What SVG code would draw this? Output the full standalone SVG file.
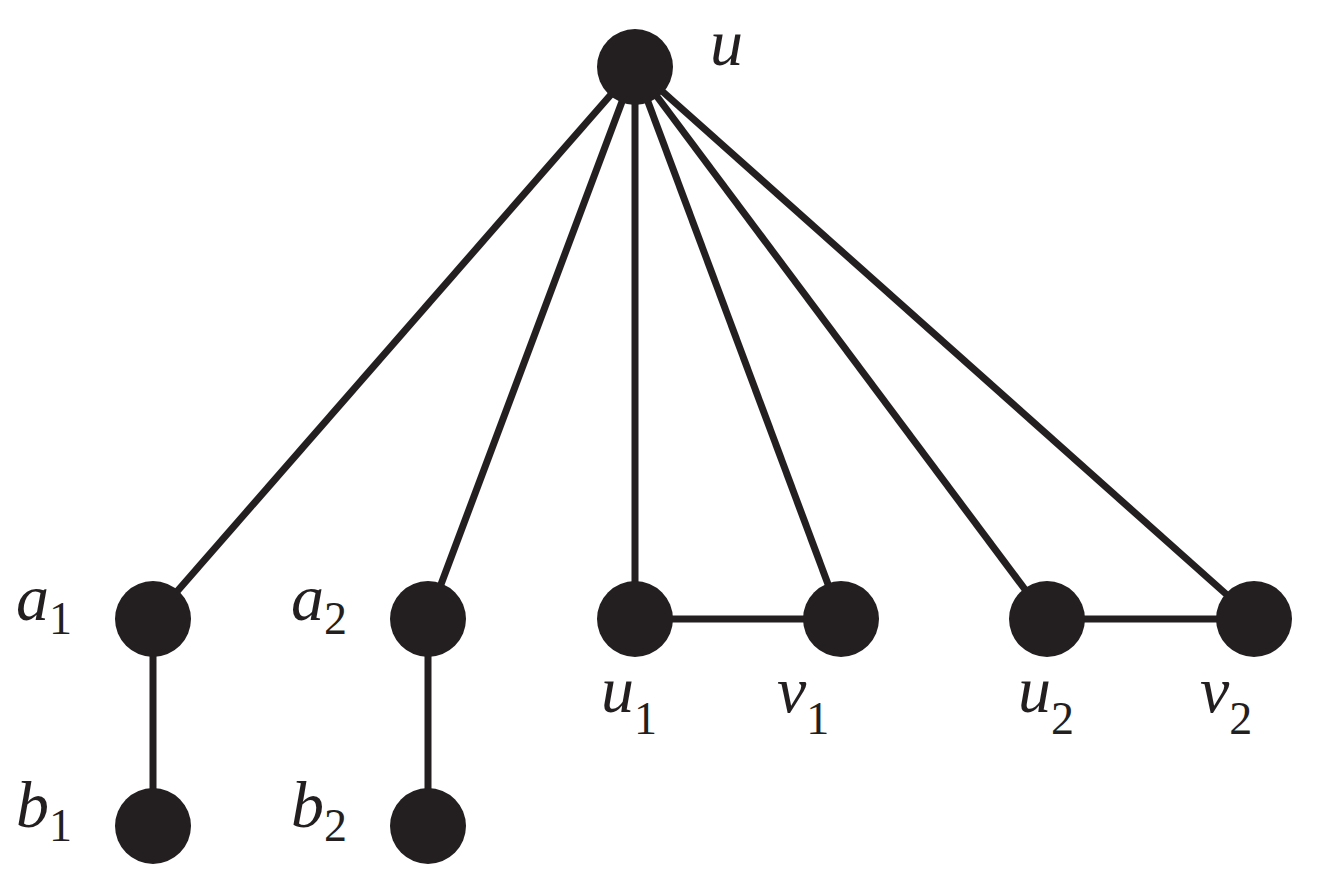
<svg xmlns="http://www.w3.org/2000/svg" width="1323" height="888" viewBox="0 0 1323 888">
<style>
.e{stroke:#231f20;stroke-width:7;fill:none}
.n{fill:#231f20}
.t{font-family:"Liberation Serif",serif;font-style:italic;font-size:66px;fill:#231f20}
.s{font-family:"Liberation Serif",serif;font-style:normal;font-size:46px}
</style>
<rect width="1323" height="888" fill="#fff"/>
<g id="edges">
<line class="e" x1="635" y1="67" x2="153" y2="619"/>
<line class="e" x1="635" y1="67" x2="428" y2="619"/>
<line class="e" x1="635" y1="67" x2="635" y2="619"/>
<line class="e" x1="635" y1="67" x2="841" y2="619"/>
<line class="e" x1="635" y1="67" x2="1047" y2="619"/>
<line class="e" x1="635" y1="67" x2="1254" y2="619"/>
<line class="e" x1="153" y1="619" x2="153" y2="826"/>
<line class="e" x1="428" y1="619" x2="428" y2="826"/>
<line class="e" x1="635" y1="619" x2="841" y2="619"/>
<line class="e" x1="1047" y1="619" x2="1254" y2="619"/>
</g>
<g id="u"><circle class="n" cx="635" cy="67" r="38"/><text class="t" x="710" y="65">u</text></g>
<g id="a1"><circle class="n" cx="153" cy="619" r="38"/><text class="t" x="16" y="620">a<tspan class="s" dy="14">1</tspan></text></g>
<g id="a2"><circle class="n" cx="428" cy="619" r="38"/><text class="t" x="291" y="620">a<tspan class="s" dy="14">2</tspan></text></g>
<g id="b1"><circle class="n" cx="153" cy="826" r="38"/><text class="t" x="16" y="827">b<tspan class="s" dy="14">1</tspan></text></g>
<g id="b2"><circle class="n" cx="428" cy="826" r="38"/><text class="t" x="291" y="827">b<tspan class="s" dy="14">2</tspan></text></g>
<g id="u1"><circle class="n" cx="635" cy="619" r="38"/><text class="t" x="601" y="712">u<tspan class="s" dy="22">1</tspan></text></g>
<g id="v1"><circle class="n" cx="841" cy="619" r="38"/><text class="t" x="777" y="712">v<tspan class="s" dy="22">1</tspan></text></g>
<g id="u2"><circle class="n" cx="1047" cy="619" r="38"/><text class="t" x="1018" y="712">u<tspan class="s" dy="22">2</tspan></text></g>
<g id="v2"><circle class="n" cx="1254" cy="619" r="38"/><text class="t" x="1200" y="712">v<tspan class="s" dy="22">2</tspan></text></g>
</svg>
